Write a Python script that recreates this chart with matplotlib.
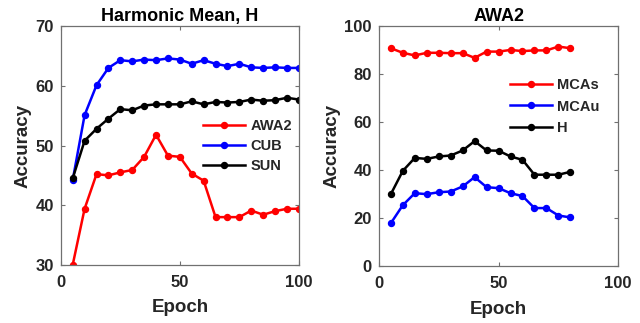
import matplotlib
matplotlib.use("Agg")
import matplotlib.pyplot as plt

# Style
plt.rcParams.update({'font.family': 'Liberation Sans', 'font.weight': 'bold',
                     'axes.labelweight': 'bold', 'axes.titleweight': 'bold'})
GRAY = '#262626'
SPINE = '#707070'

# Harmonic mean per dataset (left panel)
epochs_h = [5, 10, 15, 20, 25, 30, 35, 40, 45, 50, 55, 60, 65, 70, 75, 80, 85, 90, 95, 100]
h_awa2 = [30.0, 39.4, 45.2, 45.0, 45.5, 45.9, 48.1, 51.8, 48.3, 48.1,
          45.3, 44.1, 38.0, 38.0, 38.0, 39.1, 38.4, 39.0, 39.4, 39.4]
h_cub = [44.2, 55.1, 60.1, 63.0, 64.3, 64.1, 64.4, 64.3, 64.6, 64.4,
         63.7, 64.3, 63.7, 63.3, 63.7, 63.1, 63.0, 63.1, 63.0, 63.0]
h_sun = [44.5, 50.8, 52.8, 54.5, 56.1, 55.9, 56.7, 56.9, 56.9, 56.9,
         57.4, 56.9, 57.3, 57.2, 57.3, 57.7, 57.5, 57.6, 58.0, 57.7]

# AWA2 details (right panel)
epochs_awa2 = [5, 10, 15, 20, 25, 30, 35, 40, 45, 50, 55, 60, 65, 70, 75, 80]
mcas = [90.8, 88.9, 87.8, 88.9, 88.9, 88.75, 88.75, 86.8, 89.4, 89.4,
        90.1, 89.6, 89.9, 89.9, 91.5, 90.8]
mcau = [17.9, 25.4, 30.4, 30.0, 30.8, 31.1, 33.2, 37.1, 32.9, 32.5,
        30.4, 29.2, 24.2, 24.2, 21.1, 20.3]
h_awa2_only = [30.0, 39.7, 45.1, 44.7, 45.7, 46.1, 48.2, 52.1, 48.2, 48.1,
               45.7, 44.3, 38.1, 38.1, 38.1, 39.3]


def style_axes(ax):
    ax.tick_params(direction='in', top=True, right=True, labelsize=12,
                   colors=SPINE, labelcolor=GRAY, length=3, width=0.8)
    ax.tick_params(axis='x', pad=7)
    ax.tick_params(axis='y', pad=5)
    for s in ax.spines.values():
        s.set_color(SPINE)
        s.set_linewidth(0.9)
    ax.set_xlabel("Epoch", fontsize=13.5, color=GRAY, labelpad=7)
    ax.set_ylabel("Accuracy", fontsize=13.5, color=GRAY, labelpad=3)


fig = plt.figure(figsize=(6.4, 3.23), dpi=100)
ax1 = fig.add_axes([0.095, 0.180, 0.372, 0.739])
ax2 = fig.add_axes([0.592, 0.176, 0.374, 0.743])

kw = dict(marker='o', markersize=4.3, linewidth=1.8)
ax1.plot(epochs_h, h_awa2, color='red', label='AWA2', **kw)
ax1.plot(epochs_h, h_cub, color='blue', label='CUB', **kw)
ax1.plot(epochs_h, h_sun, color='black', label='SUN', **kw)
ax1.set_xlim(0, 100)
ax1.set_ylim(30, 70)
ax1.set_xticks([0, 50, 100])
ax1.set_yticks([30, 40, 50, 60, 70])
ax1.set_title("Harmonic Mean, H", fontsize=13, pad=4, color='black')
style_axes(ax1)
ax1.legend(loc='upper left', bbox_to_anchor=(0.597, 0.611), frameon=False,
           borderpad=0, borderaxespad=0, handlelength=2.9, handletextpad=0.35,
           labelspacing=0.42, fontsize=10.5, labelcolor=GRAY)

ax2.plot(epochs_awa2, mcas, color='red', label='MCAs', **kw)
ax2.plot(epochs_awa2, mcau, color='blue', label='MCAu', **kw)
ax2.plot(epochs_awa2, h_awa2_only, color='black', label='H', **kw)
ax2.set_xlim(0, 100)
ax2.set_ylim(0, 100)
ax2.set_xticks([0, 50, 100])
ax2.set_yticks([0, 20, 40, 60, 80, 100])
ax2.set_title("AWA2", fontsize=13, pad=4, color='black')
style_axes(ax2)
ax2.legend(loc='upper left', bbox_to_anchor=(0.548, 0.783), frameon=False,
           borderpad=0, borderaxespad=0, handlelength=2.9, handletextpad=0.35,
           labelspacing=0.5, fontsize=10.5, labelcolor=GRAY)

fig.savefig("out.png", dpi=100)
